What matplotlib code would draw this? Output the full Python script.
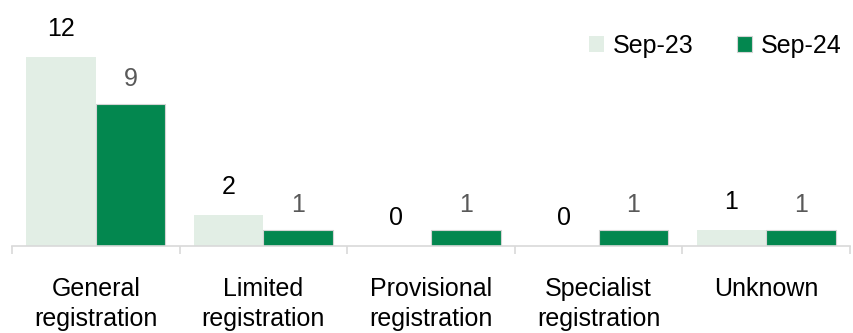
import matplotlib
matplotlib.use('Agg')
import matplotlib.pyplot as plt
import numpy as np

plt.rcParams.update({
    'font.family': ['Liberation Sans', 'DejaVu Sans'],
    'font.size': 18,
})

CATEGORIES = ["General\nregistration", "Limited\nregistration", "Provisional\nregistration",
              "Specialist\nregistration", "Unknown"]
SERIES = ["Sep-23", "Sep-24"]
SEP23 = [12, 2, 0, 0, 1]
SEP24 = [9, 1, 1, 1, 1]

COLORS = ["#E2EEE5", "#03874F"]
LABEL_COLORS = ["#000000", "#595959"]
EDGES = ["none", "#D4D4D4"]
OFFSETS = [20, 18.5]  # points above bar top

fig = plt.figure(figsize=(8.54, 3.33), dpi=100)
ax = fig.add_axes([12 / 854, 87 / 333, 838 / 854, 236 / 333])

x = np.arange(len(CATEGORIES))
width = 0.415

for i, vals in enumerate([SEP23, SEP24]):
    bars = ax.bar(x + (i - 0.5) * width, vals, width, color=COLORS[i],
                  edgecolor=EDGES[i], linewidth=0.8, label=SERIES[i])
    for bar, v in zip(bars, vals):
        ax.annotate(f"{v}", (bar.get_x() + bar.get_width() / 2, v),
                    xytext=(0, OFFSETS[i]), textcoords='offset points',
                    ha='center', va='center', fontsize=18, color=LABEL_COLORS[i])

ax.set_xlim(-0.5, len(CATEGORIES) - 0.5)
ax.set_ylim(0, 15)
for s in ['top', 'right', 'left']:
    ax.spines[s].set_visible(False)
ax.spines['bottom'].set_color('#D9D9D9')
ax.spines['bottom'].set_linewidth(1.2)
ax.set_yticks([])

ax.set_xticks(x)
ax.set_xticklabels(CATEGORIES, va='top', linespacing=1.33)
ax.tick_params(axis='x', which='major', length=0, pad=22)
ax.set_xticks(np.arange(len(CATEGORIES) + 1) - 0.5, minor=True)
ax.tick_params(axis='x', which='minor', length=6, color='#D9D9D9', width=1.2)

fig.legend(loc='upper right', bbox_to_anchor=(1.012, 0.965), ncol=2, frameon=False,
           handlelength=0.6, handleheight=0.6, handletextpad=0.35,
           columnspacing=1.75, fontsize=18)

plt.savefig("out.png", dpi=100)
